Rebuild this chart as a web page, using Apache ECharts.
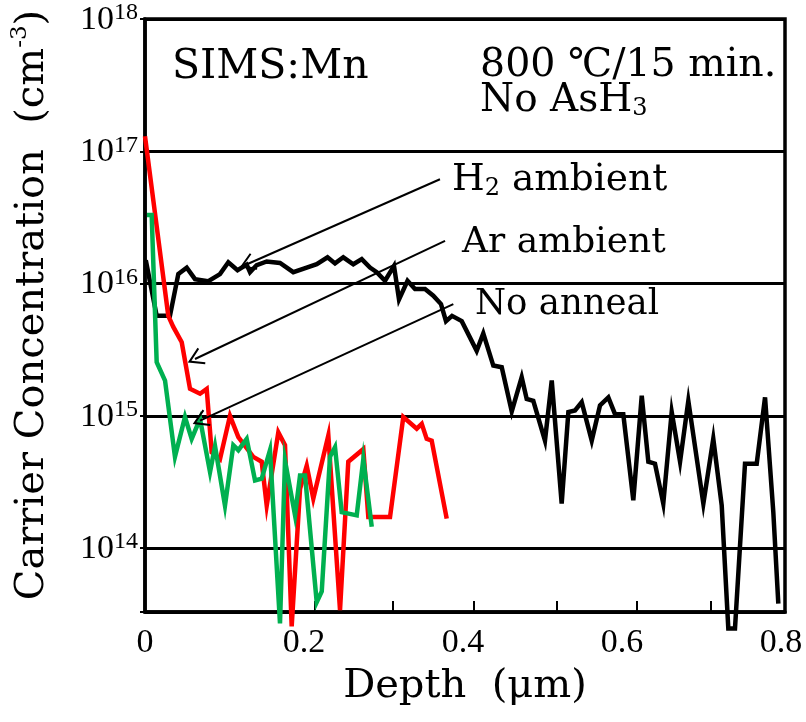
<!DOCTYPE html>
<html><head><meta charset="utf-8">
<script src="https://cdn.jsdelivr.net/npm/echarts@6/dist/echarts.min.js"></script>
<style>html,body{margin:0;padding:0;background:#fff}#c{width:806px;height:722px}</style>
</head><body><div id="c"></div>
<script>
// ---- data (depth in µm, concentration in cm^-3) ----
const h2Depth = [0.001,0.0147,0.0314,0.0419,0.0525,0.0629,0.0792,0.0943,0.1048,0.1164,0.1279,0.1321,0.1405,0.1531,0.1698,0.1865,0.2034,0.216,0.2296,0.239,0.2494,0.262,0.2726,0.283,0.2915,0.3019,0.3132,0.3195,0.3302,0.3396,0.3522,0.3626,0.3723,0.3786,0.3862,0.3984,0.4172,0.4255,0.4381,0.4487,0.4613,0.4738,0.4801,0.4884,0.5031,0.5116,0.5241,0.5325,0.5409,0.5493,0.5619,0.5723,0.5828,0.5912,0.6016,0.6142,0.6248,0.6331,0.6415,0.6519,0.6625,0.673,0.6834,0.7023,0.7148,0.7254,0.7337,0.7421,0.7547,0.7694,0.7799,0.7903,0.7966];
const h2Conc = [1.5e16,5.7e15,5.7e15,1.18e16,1.32e16,1.08e16,1.04e16,1.18e16,1.45e16,1.26e16,1.39e16,1.22e16,1.38e16,1.47e16,1.43e16,1.22e16,1.32e16,1.40e16,1.58e16,1.42e16,1.58e16,1.40e16,1.53e16,1.32e16,1.22e16,1.05e16,1.36e16,7.6e15,1.05e16,9.1e15,9.1e15,8.1e15,7.0e15,5.2e15,5.7e15,5.2e15,3.1e15,4.2e15,2.4e15,2.33e15,1.08e15,1.96e15,1.34e15,1.30e15,6.5e14,1.85e15,2.17e14,1.07e15,1.10e15,1.27e15,6.5e14,1.20e15,1.38e15,1.03e15,1.03e15,2.3e14,1.42e15,4.5e14,4.35e14,2.17e14,1.07e15,4.5e14,1.30e15,2.17e14,6.7e14,2.1e14,2.47e13,2.47e13,4.35e14,4.35e14,1.38e15,1.87e14,3.8e13];

const arDepth = [0,0.0293,0.0356,0.0462,0.0566,0.0692,0.0776,0.0839,0.0943,0.1069,0.1174,0.1362,0.1468,0.1531,0.1677,0.1761,0.1845,0.195,0.2034,0.2117,0.2306,0.2453,0.2557,0.2746,0.2809,0.3082,0.3249,0.3418,0.3481,0.3543,0.3606,0.3795];
const arConc = [1.30e17,5.7e15,4.7e15,3.6e15,1.60e15,1.47e15,1.60e15,5.3e14,4.7e14,1.0e15,6.9e14,4.9e14,4.5e14,2.1e14,7.5e14,6.0e14,2.56e13,2.8e14,4.2e14,2.37e14,7.1e14,3.4e13,4.5e14,5.6e14,1.72e14,1.72e14,9.8e14,8.0e14,8.7e14,6.7e14,6.5e14,1.67e14];

const naDepth = [0.0025,0.0084,0.0147,0.0252,0.0377,0.0503,0.0587,0.0692,0.0818,0.0881,0.1006,0.1111,0.1174,0.1279,0.1384,0.1468,0.1572,0.1698,0.1761,0.1887,0.195,0.2013,0.216,0.2223,0.2327,0.239,0.2474,0.2663,0.2746,0.2852];
const naConc = [3.3e16,3.3e16,2.54e15,1.85e15,4.9e14,9.8e14,6.7e14,9.5e14,3.76e14,5.9e14,2.1e14,6.0e14,5.5e14,6.7e14,3.25e14,3.35e14,5.5e14,2.7e13,4.6e14,1.77e14,3.54e14,3.54e14,3.9e13,4.7e13,4.9e14,5.8e14,1.87e14,1.77e14,4.7e14,1.45e14];

// annotation arrows: [tailDepth, tailConc, tipDepth, tipConc]
const arrowH2 = [0.371, 6.15e16, 0.1283, 1.40e16];
const arrowAr = [0.3774, 2.10e16, 0.0629, 2.69e15];
const arrowNA = [0.3878, 7.0e15, 0.0692, 9.2e14];

// axis ticks / labels
const xLabelVals = [0, 0.2, 0.4, 0.6, 0.8];
const xTickVals = [0.214, 0.311, 0.414, 0.518, 0.619, 0.712];
const yMin = 3.29e13, yMax = 1e18;

const zip = (a, b) => a.map((v, i) => [v, b[i]]);
const serif = 'DejaVu Serif';
const num = 'Liberation Serif';
const arrowPath = 'path://M9,0 L18,15 L16.3,16 L9,4 L1.7,16 L0,15 Z';

const chart = echarts.init(document.getElementById('c'), null, {renderer: 'canvas'});
const lineSeries = (name, d, c, color, extra) => Object.assign({
  name, type: 'line', data: zip(d, c), showSymbol: false, symbol: 'none', clip: false,
  lineStyle: {color, width: 4.5, join: 'miter'}, silent: true
}, extra || {});
const subRich = (size) => ({
  t: {fontFamily: serif, fontSize: size, fill: '#000', lineHeight: 40, verticalAlign: 'top'},
  u: {fontFamily: serif, fontSize: 24, fill: '#000', lineHeight: 24, verticalAlign: 'bottom', padding: [14, 0, 0, 0]}
});

chart.setOption({
  animation: false,
  grid: {left: 145, right: 21, top: 19, bottom: 110, show: true, borderColor: '#000', borderWidth: 3.5},
  xAxis: {
    type: 'value', min: 0, max: 0.805,
    axisLine: {show: true, onZero: false, lineStyle: {color: '#000', width: 3.5}},
    axisTick: {show: true, inside: true, length: 11, customValues: xTickVals, lineStyle: {color: '#000', width: 2}},
    axisLabel: {customValues: xLabelVals, margin: 14, color: '#000', fontFamily: num, fontSize: 34, formatter: v => String(+v.toFixed(1))},
    splitLine: {show: false},
    name: 'Depth  (μm)', nameLocation: 'middle', nameGap: 55,
    nameTextStyle: {fontFamily: serif, fontSize: 40, color: '#000'}
  },
  yAxis: {
    type: 'log', logBase: 10, min: yMin, max: yMax,
    axisLine: {show: true, lineStyle: {color: '#000', width: 3.5}},
    axisTick: {show: true, length: 5, lineStyle: {color: '#000', width: 2}},
    axisLabel: {
      margin: 7, color: '#000',
      formatter: v => { const e = Math.log10(v); const r = Math.round(e); if (Math.abs(e - r) > 0.01) return ''; return '{b|10}{s|' + r + '}'; },
      rich: {
        b: {fontFamily: num, fontSize: 34, color: '#000', lineHeight: 36, verticalAlign: 'bottom'},
        s: {fontFamily: num, fontSize: 24, color: '#000', lineHeight: 22, verticalAlign: 'top'}
      }
    },
    splitLine: {show: true, lineStyle: {color: '#000', width: 3}}
  },
  series: [
    lineSeries('H2 ambient', h2Depth, h2Conc, '#000000'),
    lineSeries('Ar ambient', arDepth, arConc, '#ff0000'),
    lineSeries('No anneal', naDepth, naConc, '#00b050', {
      markLine: {
        silent: true, symbol: ['none', arrowPath], symbolSize: [18, 16],
        label: {show: false}, emphasis: {disabled: true},
        lineStyle: {color: '#000', width: 2, type: 'solid'},
        data: [arrowH2, arrowAr, arrowNA].map(a => [{coord: [a[0], a[1]]}, {coord: [a[2], a[3]]}])
      }
    })
  ],
  graphic: [
    {type: 'text', x: 31, y: 305, rotation: Math.PI / 2, silent: true,
     style: {text: '{t|Carrier Concentration  (cm}{s|-3}{t|)}', align: 'center', verticalAlign: 'middle',
       rich: {t: {fontFamily: serif, fontSize: 40, fill: '#000', lineHeight: 44, verticalAlign: 'bottom'},
              s: {fontFamily: serif, fontSize: 23, fill: '#000', lineHeight: 24, verticalAlign: 'top'}}}},
    {type: 'text', x: 172, y: 67, silent: true, style: {text: 'SIMS:Mn', font: '41px "DejaVu Serif"', fill: '#000', verticalAlign: 'middle'}},
    {type: 'text', x: 480, y: 66, silent: true, style: {text: '800 ℃/15 min.', font: '39.5px "DejaVu Serif"', fill: '#000', verticalAlign: 'middle'}},
    {type: 'text', x: 480, y: 101, silent: true,
     style: {text: '{t|No AsH}{u|3}', verticalAlign: 'middle', rich: subRich(39)}},
    {type: 'text', x: 452, y: 181, silent: true,
     style: {text: '{t|H}{u|2}{t| ambient}', verticalAlign: 'middle', rich: subRich(37.5)}},
    {type: 'text', x: 462, y: 243, silent: true, style: {text: 'Ar ambient', font: '36px "DejaVu Serif"', fill: '#000', verticalAlign: 'middle'}},
    {type: 'text', x: 475, y: 305, silent: true, style: {text: 'No anneal', font: '35.5px "DejaVu Serif"', fill: '#000', verticalAlign: 'middle'}}
  ]
});
</script></body></html>
